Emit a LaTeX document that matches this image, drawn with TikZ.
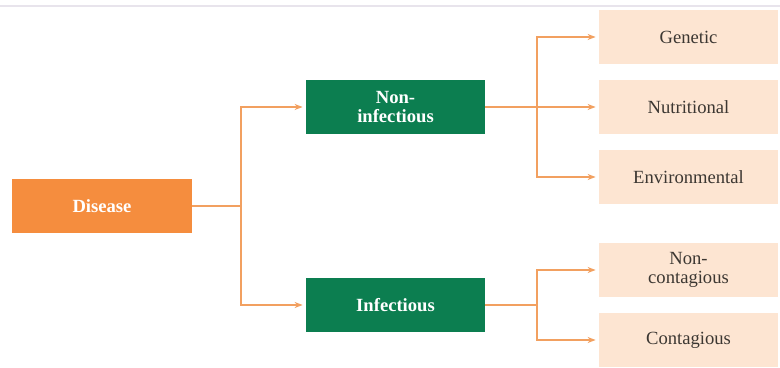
\documentclass[tikz,border=0pt]{standalone}
\usepackage{fontspec}
\setmainfont{Liberation Serif}
\usepackage{tikz}
\usetikzlibrary{arrows.meta,positioning}
\definecolor{dsOrange} {RGB}{245, 141,  62}
\definecolor{dsLine}   {RGB}{242, 160,  96}
\definecolor{dsGreen}  {RGB}{ 12, 126,  80}
\definecolor{dsPeach}  {RGB}{253, 229, 210}
\definecolor{dsText}   {RGB}{ 60,  55,  50}
\definecolor{dsRule}   {RGB}{232, 228, 236}

\tikzset{
  mainbox/.style={fill=dsOrange,text=white,font=\bfseries\fontsize{9.3}{9.5}\selectfont,
                  minimum width=90pt,minimum height=27pt,inner sep=0pt,align=center},
  groupbox/.style={fill=dsGreen,text=white,font=\bfseries\fontsize{9.3}{9.3}\selectfont,
                   minimum width=89.5pt,minimum height=27pt,inner sep=0pt,align=center},
  leafbox/.style={fill=dsPeach,text=dsText,font=\fontsize{9.3}{9.6}\selectfont,
                  minimum width=89.5pt,minimum height=27pt,inner sep=0pt,align=center},
  link/.style={draw=dsLine,line width=0.6pt,-{Stealth[length=4pt,width=3pt]},shorten >=1.5pt}
}

\begin{document}
\begin{tikzpicture}[x=0.5pt,y=-0.5pt]
        \useasboundingbox (0,0) rectangle (780,368);
        % Linha superior
        \draw[dsRule,line width=1.2pt] (0,6)--(780,6);
        % Caixas
        \node[mainbox] (disease) at (102,206) {Disease};
        \node[groupbox] (noninf) at (395.5,107) {Non-\\infectious};
        \node[groupbox] (inf) at (395.5,305) {Infectious};
        \node[leafbox] (genetic) at (688.5,37) {Genetic};
        \node[leafbox] (nutri) at (688.5,107.5) {Nutritional};
        \node[leafbox] (environ) at (688.5,177) {Environmental};
        \node[leafbox] (noncont) at (688.5,270) {Non-\\contagious};
        \node[leafbox] (cont) at (688.5,340) {Contagious};
        % Ligacoes
        \coordinate (j1) at (241,206);
        \coordinate (j2) at (537,107);
        \coordinate (j3) at (537,305);
        \draw[dsLine,line width=0.6pt] (disease.east)--(j1);
        \draw[link] (j1) |- (noninf.west);
        \draw[link] (j1) |- (inf.west);
        \draw[dsLine,line width=0.6pt] (noninf.east)--(j2);
        \draw[link] (j2) |- (genetic.west);
        \draw[link] (j2) -- (nutri.west |- j2);
        \draw[link] (j2) |- (environ.west);
        \draw[dsLine,line width=0.6pt] (inf.east)--(j3);
        \draw[link] (j3) |- (noncont.west);
        \draw[link] (j3) |- (cont.west);
\end{tikzpicture}
\end{document}
